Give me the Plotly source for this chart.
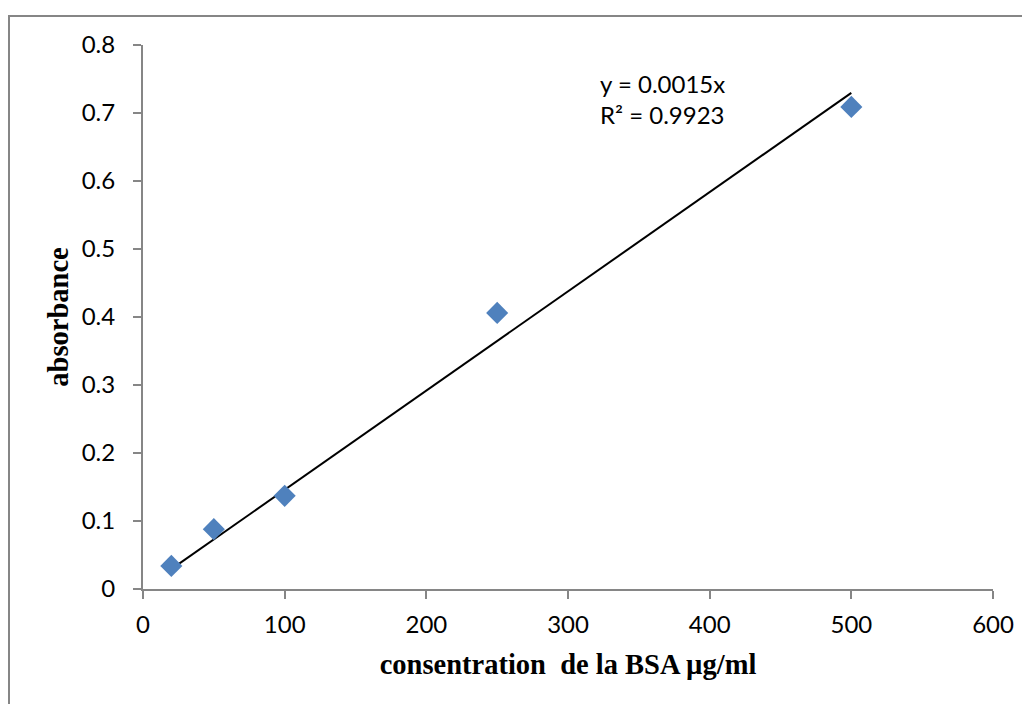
import numpy as np
import plotly.graph_objects as go

concentration = [20, 50, 100, 250, 500]
absorbance = [0.034, 0.088, 0.137, 0.406, 0.709]
x_ticks = [0, 100, 200, 300, 400, 500, 600]
y_ticks = [0, 0.1, 0.2, 0.3, 0.4, 0.5, 0.6, 0.7, 0.8]
eq_text = "y = 0.0015x"
r2_text = "R² = 0.9923"

xs = np.array(concentration, dtype=float)
ys = np.array(absorbance, dtype=float)
slope = float((xs * ys).sum() / (xs * xs).sum())
line_x = [xs.min(), xs.max()]
line_y = [slope * v for v in line_x]

# page body has an 8px margin; plot area occupies px 143..993 x 45..589 in the window
L, T, PW, PH = 135, 37, 850, 544

fig = go.Figure()
fig.add_trace(go.Scatter(x=line_x, y=line_y, mode="lines",
                         line=dict(color="black", width=2), showlegend=False))
fig.add_trace(go.Scatter(x=concentration, y=absorbance, mode="markers",
                         marker=dict(symbol="diamond", size=17, color="#4F81BD",
                                     line=dict(width=0)),
                         showlegend=False))

axis_color = "#868686"
tickfont = dict(family="Lato, Open Sans, sans-serif", size=24, color="black")
titlefont = dict(family="Liberation Serif", size=28.5, color="black")
fig.update_xaxes(range=[0, 600], tickvals=x_ticks, ticktext=[str(v) for v in x_ticks],
                 showgrid=False, zeroline=False, showline=True, linecolor=axis_color,
                 linewidth=2, ticks="outside", ticklen=8, tickwidth=2, tickcolor=axis_color,
                 tickfont=tickfont, ticklabelstandoff=5,
                 title=dict(text="<b>consentration  de la BSA µg/ml</b>",
                            font=titlefont, standoff=17))
fig.update_yaxes(range=[0, 0.8], tickvals=y_ticks, ticktext=[("%g" % v) for v in y_ticks],
                 showgrid=False, zeroline=False, showline=True, linecolor=axis_color,
                 linewidth=2, ticks="outside", ticklen=8, tickwidth=2, tickcolor=axis_color,
                 tickfont=tickfont, ticklabelstandoff=13,
                 title=dict(text="<b>absorbance</b>", font=titlefont, standoff=5))

ann_x = (598 - 143) / PW * 600
ann_y = (589 - 99) / PH * 0.8
fig.add_annotation(x=ann_x, y=ann_y, xref="x", yref="y", text=eq_text + "<br>" + r2_text,
                   showarrow=False, xanchor="left", yanchor="middle", align="left",
                   font=tickfont)

fig.add_shape(type="rect", xref="paper", yref="paper",
              x0=(9 - 143) / PW, x1=(1045 - 143) / PW,
              y0=(589 - 720) / PH, y1=(589 - 16) / PH,
              line=dict(color=axis_color, width=2), layer="below")

fig.update_layout(width=1022, height=696, paper_bgcolor="white", plot_bgcolor="white",
                  margin=dict(l=L, r=1022 - L - PW, t=T, b=696 - T - PH))
fig.write_html("out.html")
